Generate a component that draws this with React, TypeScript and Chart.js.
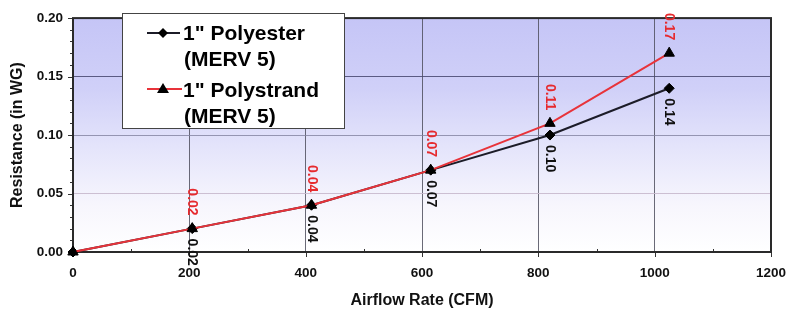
import { useEffect, useRef } from 'react';
import { Chart, registerables } from 'chart.js';

Chart.register(...registerables);

const airflow = [0, 205, 410, 615, 820, 1025];
const polyester = [0, 0.02, 0.04, 0.07, 0.1, 0.14];
const polystrand = [0, 0.02, 0.04, 0.07, 0.11, 0.17];
const polyesterLabel = ['1" Polyester', '(MERV 5)'];
const polystrandLabel = ['1" Polystrand', '(MERV 5)'];
const xTitle = 'Airflow Rate (CFM)';
const yTitle = 'Resistance (in WG)';

const FONT = '"Liberation Sans", Arial, Helvetica, sans-serif';
const BLACK_LINE = '#1c1c28';
const RED_LINE = '#e8333a';
const RED_TEXT = '#e62a2e';

const decor = {
  id: 'decor',
  beforeDraw(chart: any) {
    const { ctx, chartArea: a } = chart;
    const g = ctx.createLinearGradient(0, a.top, 0, a.bottom);
    g.addColorStop(0, 'rgb(197,197,246)');
    g.addColorStop(0.3, 'rgb(208,208,248)');
    g.addColorStop(0.55, 'rgb(228,228,251)');
    g.addColorStop(0.8, 'rgb(247,246,253)');
    g.addColorStop(1, '#ffffff');
    ctx.save();
    ctx.fillStyle = g;
    ctx.fillRect(a.left, a.top, a.right - a.left, a.bottom - a.top);
    ctx.restore();
  },
  beforeDatasetsDraw(chart: any) {
    const { ctx, chartArea: a, scales } = chart;
    const xs = scales.x;
    const ys = scales.y;
    ctx.save();
    ctx.strokeStyle = '#333';
    ctx.lineWidth = 1;
    for (let i = 0; i <= 20; i++) {
      const y = Math.round(ys.getPixelForValue(i / 100)) + 0.5;
      const len = i % 5 === 0 ? 5 : 3;
      ctx.beginPath();
      ctx.moveTo(a.left - len, y);
      ctx.lineTo(a.left, y);
      ctx.stroke();
    }
    for (let v = 0; v <= 1200; v += 100) {
      const x = Math.round(xs.getPixelForValue(v)) + 0.5;
      ctx.beginPath();
      if (v % 200 === 0) {
        ctx.moveTo(x, a.bottom);
        ctx.lineTo(x, a.bottom + 5);
      } else {
        ctx.moveTo(x, a.bottom);
        ctx.lineTo(x, a.bottom - 3);
      }
      ctx.stroke();
    }
    ctx.strokeStyle = '#2a2a2a';
    ctx.lineWidth = 2;
    ctx.strokeRect(a.left, a.top, a.right - a.left, a.bottom - a.top);
    ctx.restore();
  },
  afterDatasetsDraw(chart: any) {
    const { ctx } = chart;
    ctx.save();
    ctx.font = `bold 14px ${FONT}`;
    ctx.textBaseline = 'middle';
    chart.data.datasets.forEach((ds: any, di: number) => {
      const meta = chart.getDatasetMeta(di);
      const above = ds.labelPos === 'above';
      ctx.fillStyle = above ? RED_TEXT : '#111';
      meta.data.forEach((pt: any, i: number) => {
        if (i === 0) return;
        const txt = Number(ds.data[i].y).toFixed(2);
        ctx.save();
        if (above) {
          ctx.translate(pt.x, pt.y - 13);
          ctx.rotate(Math.PI / 2);
          ctx.textAlign = 'right';
        } else {
          ctx.translate(pt.x, pt.y + 10);
          ctx.rotate(Math.PI / 2);
          ctx.textAlign = 'left';
        }
        ctx.fillText(txt, 0, 0);
        ctx.restore();
      });
    });
    ctx.restore();
  },
  afterDraw(chart: any) {
    const { ctx } = chart;
    ctx.save();
    const bx = 122, by = 13, bw = 222, bh = 115;
    ctx.fillStyle = '#ffffff';
    ctx.fillRect(bx, by, bw, bh);
    ctx.strokeStyle = '#444';
    ctx.lineWidth = 1;
    ctx.strokeRect(bx + 0.5, by + 0.5, bw, bh);

    ctx.font = `bold 21px ${FONT}`;
    ctx.fillStyle = '#000';
    ctx.textAlign = 'left';
    ctx.textBaseline = 'alphabetic';
    ctx.fillText(polyesterLabel[0], 183, 40);
    ctx.fillText(polyesterLabel[1], 184, 66);
    ctx.fillText(polystrandLabel[0], 183, 97);
    ctx.fillText(polystrandLabel[1], 184, 123);

    ctx.lineWidth = 2;
    ctx.strokeStyle = BLACK_LINE;
    ctx.beginPath();
    ctx.moveTo(147, 33);
    ctx.lineTo(180, 33);
    ctx.stroke();
    ctx.fillStyle = '#000';
    ctx.beginPath();
    ctx.moveTo(163, 28);
    ctx.lineTo(168, 33);
    ctx.lineTo(163, 38);
    ctx.lineTo(158, 33);
    ctx.closePath();
    ctx.fill();

    ctx.strokeStyle = RED_LINE;
    ctx.beginPath();
    ctx.moveTo(147, 89);
    ctx.lineTo(182, 89);
    ctx.stroke();
    ctx.fillStyle = '#000';
    ctx.beginPath();
    ctx.moveTo(163, 83);
    ctx.lineTo(169, 93);
    ctx.lineTo(157, 93);
    ctx.closePath();
    ctx.fill();
    ctx.restore();
  },
};

export default function App() {
  const ref = useRef<HTMLCanvasElement | null>(null);
  useEffect(() => {
    if (!ref.current) return;
    const chart = new Chart(ref.current, {
      type: 'line',
      data: {
        datasets: [
          {
            label: polyesterLabel.join(' '),
            data: airflow.map((x, i) => ({ x, y: polyester[i] })),
            borderColor: BLACK_LINE,
            backgroundColor: '#000',
            borderWidth: 2,
            pointStyle: 'rectRot',
            pointRadius: 5,
            pointBorderWidth: 1,
            pointBorderColor: '#000',
            pointBackgroundColor: '#000',
            clip: false,
            order: 1,
            labelPos: 'below',
          } as any,
          {
            label: polystrandLabel.join(' '),
            data: airflow.map((x, i) => ({ x, y: polystrand[i] })),
            borderColor: RED_LINE,
            backgroundColor: '#000',
            borderWidth: 2,
            pointStyle: 'triangle',
            pointRadius: 6,
            pointBorderWidth: 1,
            pointBorderColor: '#000',
            pointBackgroundColor: '#000',
            clip: false,
            order: 0,
            labelPos: 'above',
          } as any,
        ],
      },
      options: {
        animation: false,
        responsive: false,
        events: [],
        layout: { padding: { top: 13, right: 15, left: 0, bottom: 0 } },
        plugins: { legend: { display: false }, tooltip: { enabled: false } },
        scales: {
          x: {
            type: 'linear',
            min: 0,
            max: 1200,
            afterFit: (s: any) => { s.height = 61; s.paddingRight = 0; },
            ticks: {
              stepSize: 200,
              padding: 13,
              color: '#111',
              font: { family: FONT, size: 13.5, weight: 'bold' },
              callback: (v: any) => String(v),
            },
            grid: {
              drawTicks: false,
              color: 'rgba(80,80,95,0.85)',
              lineWidth: 1,
            },
            border: { display: false },
            title: {
              display: true,
              text: xTitle,
              color: '#111',
              font: { family: FONT, size: 16, weight: 'bold' },
              padding: { top: 0, bottom: 3 },
            },
          },
          y: {
            type: 'linear',
            min: 0,
            max: 0.2,
            afterFit: (s: any) => { s.width = 73; },
            ticks: {
              stepSize: 0.05,
              padding: 10,
              color: '#111',
              font: { family: FONT, size: 13.5, weight: 'bold' },
              callback: (v: any) => Number(v).toFixed(2),
            },
            grid: {
              drawTicks: false,
              color: (c: any) => {
                const v = c.tick ? c.tick.value : 0;
                if (v >= 0.149) return 'rgba(70,70,110,0.85)';
                if (v >= 0.099) return 'rgba(130,130,160,0.8)';
                return 'rgba(200,185,205,0.9)';
              },
              lineWidth: 1,
            },
            border: { display: false },
            title: {
              display: true,
              text: yTitle,
              color: '#111',
              font: { family: FONT, size: 16, weight: 'bold' },
              padding: { top: 8, bottom: 0 },
            },
          },
        },
      } as any,
      plugins: [decor],
    });
    return () => chart.destroy();
  }, []);
  return (
    <div style={{ position: 'absolute', left: 0, top: 0, width: 786, height: 313, background: '#fff' }}>
      <canvas ref={ref} width={786} height={313} />
    </div>
  );
}
